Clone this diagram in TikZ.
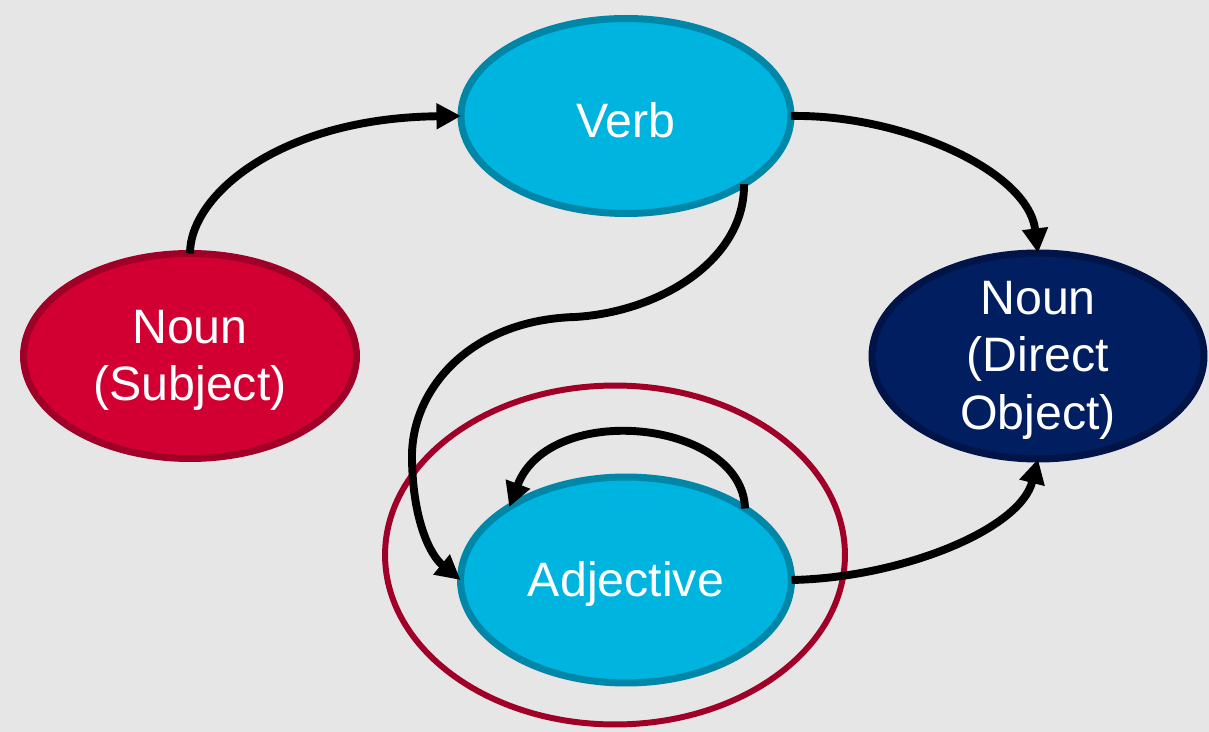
\documentclass[tikz,border=0pt]{standalone}
\usepackage{fontspec}
\setmainfont{Liberation Sans}
\usetikzlibrary{shapes.geometric,arrows.meta}

\definecolor{bg}{RGB}{230,230,230}
\definecolor{cyanfill}{RGB}{0,180,224}
\definecolor{cyanline}{RGB}{0,134,166}
\definecolor{redfill}{RGB}{210,0,50}
\definecolor{redline}{RGB}{160,0,40}
\definecolor{navyfill}{RGB}{0,30,96}
\definecolor{navyline}{RGB}{0,20,72}
\definecolor{ringred}{RGB}{160,0,40}

\begin{document}
\begin{tikzpicture}[x=0.02cm,y=-0.02cm,
  blob/.style={ellipse, line width=4pt, inner sep=0pt, outer sep=0pt},
  blobtext/.style={text=white, align=center, inner sep=0pt, yshift=-2.5pt,
    font=\fontsize{27.5}{32.5}\selectfont},
  link/.style={line width=4.5pt, -{Triangle[length=14pt,width=14pt]}},
]
% canvas
\fill[bg] (0,0) rectangle (1209,732);
\useasboundingbox (0,0) rectangle (1209,732);

% ring around the adjective
\node (ring) [ellipse, draw=ringred, line width=3.4pt,
  minimum width=9.2cm, minimum height=6.78cm] at (615,555) {};

% word classes
\node (verb) [blob, fill=cyanfill, draw=cyanline,
  minimum width=6.6cm, minimum height=3.9cm,
  label={[blobtext, name=verbtext]center:Verb}] at (626,116) {};
\node (subj) [blob, fill=redfill, draw=redline,
  minimum width=6.66cm, minimum height=4.1cm,
  label={[blobtext, name=subjtext]center:Noun\\(Subject)}] at (190,356) {};
\node (dobj) [blob, fill=navyfill, draw=navyline,
  minimum width=6.64cm, minimum height=4.12cm,
  label={[blobtext, name=dobjtext]center:Noun\\(Direct\\Object)}] at (1038,356) {};
\node (adj) [blob, fill=cyanfill, draw=cyanline,
  minimum width=6.62cm, minimum height=4.12cm,
  label={[blobtext, name=adjtext]center:Adjective}] at (626,580) {};

% transitions
\draw[link] (subj.north) .. controls (190,195) and (280,118) .. (verb.west);
\draw[link] (verb.east) .. controls (900,114) and (1028,170) .. (dobj.north);
\draw[link] (verb.-30) .. controls (745,260) and (660,312) .. (575,317)
  .. controls (470,320) and (410,390) .. (412,460)
  .. controls (413,520) and (430,555) .. (adj.west);
\draw[link] (adj.31) .. controls (742,420) and (550,400) .. (adj.148);
\draw[link] (adj.east) .. controls (900,578) and (1020,530) .. (dobj.south);
\end{tikzpicture}
\end{document}
